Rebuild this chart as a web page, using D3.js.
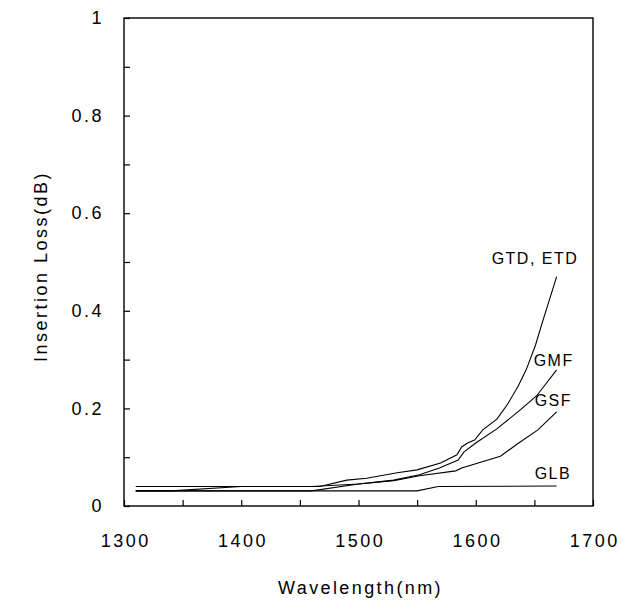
<!DOCTYPE html>
<html lang="en">
<meta charset="utf-8">
<head>
    <script src="https://d3js.org/d3.v7.min.js"></script>
    <style>
        body { margin: 0; background: #fff; }
        text { font-family: "Liberation Sans", Arial, sans-serif; fill: #000; }
    </style>
</head>
<body>
<script>
// wavelength (nm) / insertion loss (dB)
const gtdX = [1310, 1467, 1490, 1507, 1533, 1550, 1570, 1584, 1588, 1593, 1599, 1606, 1618, 1627, 1636, 1643, 1651, 1657, 1669];
const gtdY = [0.040, 0.040, 0.053, 0.057, 0.068, 0.074, 0.088, 0.105, 0.121, 0.129, 0.135, 0.156, 0.178, 0.208, 0.245, 0.279, 0.330, 0.378, 0.470];

const gmfX = [1310, 1460, 1500, 1530, 1552, 1569, 1585, 1590, 1600, 1618, 1638, 1652, 1669];
const gmfY = [0.031, 0.031, 0.045, 0.053, 0.064, 0.078, 0.094, 0.111, 0.129, 0.158, 0.197, 0.226, 0.279];

const gsfX = [1310, 1340, 1400, 1460, 1500, 1530, 1552, 1583, 1588, 1621, 1636, 1653, 1669];
const gsfY = [0.031, 0.031, 0.040, 0.040, 0.045, 0.052, 0.062, 0.072, 0.078, 0.102, 0.128, 0.156, 0.193];

const glbX = [1310, 1550, 1568, 1669];
const glbY = [0.031, 0.031, 0.040, 0.041];

const seriesNames = ["GTD, ETD", "GMF", "GSF", "GLB"];
const xTicks = [1300, 1400, 1500, 1600, 1700];
const xMinor = [1300, 1350, 1400, 1450, 1500, 1550, 1600, 1650, 1700];
const yTicks = [0, 0.2, 0.4, 0.6, 0.8, 1];
const yMinor = [0, 0.1, 0.2, 0.3, 0.4, 0.5, 0.6, 0.7, 0.8, 0.9, 1];

const W = 621, H = 602;
const margin = {top: 18, right: 28, bottom: 96, left: 124};
const width = W - margin.left - margin.right;
const height = H - margin.top - margin.bottom;

const svg = d3.select("body").append("svg")
    .attr("width", W)
    .attr("height", H);

const g = svg.append("g")
    .attr("transform", "translate(" + margin.left + "," + margin.top + ")");

const x = d3.scaleLinear().domain([1300, 1700]).range([0, width]);
const y = d3.scaleLinear().domain([0, 1]).range([height, 0]);

// inward minor ticks
g.append("g")
    .attr("transform", "translate(0," + height + ")")
    .call(d3.axisBottom(x).tickValues(xMinor).tickSize(-6).tickFormat(""))
    .call(a => a.select(".domain").remove());
g.append("g")
    .call(d3.axisLeft(y).tickValues(yMinor).tickSize(-6).tickFormat(""))
    .call(a => a.select(".domain").remove());

// labels
g.append("g")
    .attr("transform", "translate(0," + height + ")")
    .call(d3.axisBottom(x).tickValues(xTicks).tickSize(0).tickPadding(28).tickFormat(d3.format("d")))
    .call(a => a.select(".domain").remove())
    .selectAll("text")
    .style("font-size", "18px")
    .style("letter-spacing", "2.5px")
    .attr("dx", "1.2px");
g.append("g")
    .call(d3.axisLeft(y).tickValues(yTicks).tickSize(0).tickPadding(20).tickFormat(d => d === 0 || d === 1 ? d : d3.format(".1f")(d)))
    .call(a => a.select(".domain").remove())
    .selectAll("text")
    .style("font-size", "18px")
    .style("letter-spacing", "2.5px");

g.selectAll(".tick line").attr("stroke", "#000").attr("stroke-width", 1.2);

// frame
g.append("rect")
    .attr("x", 0).attr("y", 0)
    .attr("width", width).attr("height", height)
    .attr("fill", "none")
    .attr("stroke", "#000")
    .attr("stroke-width", 1.4);

// curves
const series = [
    {name: seriesNames[0], xs: gtdX, ys: gtdY, dx: -65, dy: -13},
    {name: seriesNames[1], xs: gmfX, ys: gmfY, dx: -23, dy: -4},
    {name: seriesNames[2], xs: gsfX, ys: gsfY, dx: -22, dy: -6},
    {name: seriesNames[3], xs: glbX, ys: glbY, dx: -22, dy: -7}
];

const line = d3.line()
    .x(d => x(d[0]))
    .y(d => y(d[1]));

series.forEach(function(s) {
    const pts = s.xs.map((v, i) => [v, s.ys[i]]);
    g.append("path")
        .datum(pts)
        .attr("fill", "none")
        .attr("stroke", "#000")
        .attr("stroke-width", 1.1)
        .attr("d", line);
    const last = pts[pts.length - 1];
    g.append("text")
        .attr("x", x(last[0]) + s.dx)
        .attr("y", y(last[1]) + s.dy)
        .style("font-size", "16px")
        .style("letter-spacing", "1.5px")
        .text(s.name);
});

// axis titles
svg.append("text")
    .attr("x", margin.left + width / 2 + 2)
    .attr("y", 594)
    .attr("text-anchor", "middle")
    .style("font-size", "18px")
    .style("letter-spacing", "2.4px")
    .text("Wavelength(nm)");

svg.append("text")
    .attr("transform", "translate(47,362) rotate(-90)")
    .attr("text-anchor", "start")
    .style("font-size", "18px")
    .style("letter-spacing", "2.5px")
    .text("Insertion Loss(dB)");
</script>
</body>
</html>
